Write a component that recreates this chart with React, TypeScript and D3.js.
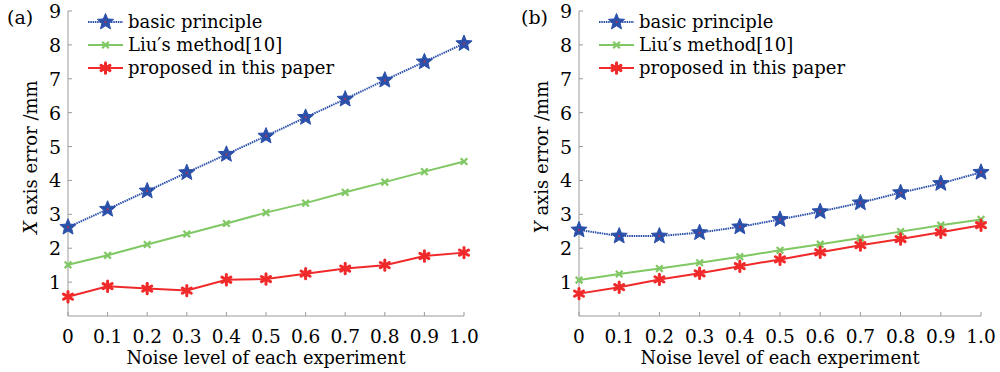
import React from "react";
import * as d3 from "d3";

const noise = [0, 0.1, 0.2, 0.3, 0.4, 0.5, 0.6, 0.7, 0.8, 0.9, 1.0];
const xTickLabels = ["0", "0.1", "0.2", "0.3", "0.4", "0.5", "0.6", "0.7", "0.8", "0.9", "1.0"];
const yTicks = [1, 2, 3, 4, 5, 6, 7, 8, 9];
const seriesNames = ["basic principle", "Liu\u2032s method[10]", "proposed in this paper"];

const aBasic = [2.62, 3.15, 3.69, 4.23, 4.77, 5.31, 5.86, 6.4, 6.96, 7.5, 8.04];
const aLiu = [1.51, 1.79, 2.11, 2.42, 2.73, 3.05, 3.33, 3.65, 3.95, 4.26, 4.56];
const aProposed = [0.57, 0.88, 0.81, 0.75, 1.07, 1.09, 1.25, 1.4, 1.5, 1.77, 1.87];

const bBasic = [2.54, 2.36, 2.36, 2.46, 2.63, 2.85, 3.08, 3.34, 3.64, 3.91, 4.24];
const bLiu = [1.06, 1.24, 1.4, 1.57, 1.75, 1.94, 2.12, 2.3, 2.49, 2.68, 2.85];
const bProposed = [0.66, 0.85, 1.08, 1.26, 1.47, 1.67, 1.88, 2.09, 2.27, 2.47, 2.68];

const BLUE = "#2b50aa";
const GREEN = "#80c864";
const RED = "#f02a2a";
const AXIS = "#9a9a9a";
const FONT = "DejaVu Serif, serif";

function starPath(cx: number, cy: number, R: number, r: number) {
  const pts: string[] = [];
  for (let i = 0; i < 10; i++) {
    const a = -Math.PI / 2 + (i * Math.PI) / 5;
    const rad = i % 2 === 0 ? R : r;
    pts.push(`${(cx + rad * Math.cos(a)).toFixed(2)},${(cy + rad * Math.sin(a)).toFixed(2)}`);
  }
  return "M" + pts.join("L") + "Z";
}

function Marker({ kind, x, y }: { kind: number; x: number; y: number }) {
  if (kind === 0) {
    return (
      <g>
        <path d={starPath(x, y, 8.5, 3.8)} fill={BLUE} stroke={BLUE} strokeWidth={1} />
        <circle cx={x} cy={y} r={1} fill="#c0304a" />
      </g>
    );
  }
  if (kind === 1) {
    const s = 3.3;
    return (
      <g stroke={GREEN} strokeWidth={2.2}>
        <line x1={x - s} y1={y - s} x2={x + s} y2={y + s} />
        <line x1={x - s} y1={y + s} x2={x + s} y2={y - s} />
      </g>
    );
  }
  const s = 5.2;
  const lines = [0, 60, 120].map((deg) => {
    const a = (deg * Math.PI) / 180 + Math.PI / 2;
    return (
      <line key={deg} x1={x - s * Math.cos(a)} y1={y - s * Math.sin(a)} x2={x + s * Math.cos(a)} y2={y + s * Math.sin(a)} />
    );
  });
  return (
    <g stroke={RED} strokeWidth={3} strokeLinecap="round">
      {lines}
    </g>
  );
}

function Panel({
  left,
  right,
  tag,
  tagX,
  axisLetter,
  data,
}: {
  left: number;
  right: number;
  tag: string;
  tagX: number;
  axisLetter: string;
  data: number[][];
}) {
  const x = d3.scaleLinear().domain([0, 1]).range([left, right]);
  const y = d3.scaleLinear().domain([0, 9]).range([316, 11]);
  const line = d3
    .line<number>()
    .x((_, i) => x(noise[i]))
    .y((d) => y(d));
  const colors = [BLUE, GREEN, RED];
  const legX = left + 20;
  const legY = [22, 45, 68];
  return (
    <g>
      <text x={tagX} y={24} fontFamily={FONT} fontSize={19}>
        {tag}
      </text>
      <line x1={left} y1={y(9)} x2={left} y2={y(0)} stroke={AXIS} strokeWidth={1} />
      <line x1={left} y1={y(0)} x2={right} y2={y(0)} stroke={AXIS} strokeWidth={1} />
      {yTicks.map((t) => (
        <g key={t}>
          <line x1={left} x2={left + 4} y1={y(t)} y2={y(t)} stroke={AXIS} />
          <text x={left - 7} y={y(t) + 7} textAnchor="end" fontFamily={FONT} fontSize={19}>
            {t}
          </text>
        </g>
      ))}
      {noise.map((t, i) => (
        <g key={i}>
          <line x1={x(t)} x2={x(t)} y1={y(0)} y2={y(0) - 4} stroke={AXIS} />
          <text x={x(t)} y={343} textAnchor="middle" fontFamily={FONT} fontSize={18.5}>
            {xTickLabels[i]}
          </text>
        </g>
      ))}
      <text x={(left + right) / 2} y={364} textAnchor="middle" fontFamily={FONT} fontSize={17.8}>
        Noise level of each experiment
      </text>
      <text
        transform={`translate(${left - 31},${157}) rotate(-90)`}
        textAnchor="middle"
        fontFamily={FONT}
        fontSize={18}
      >
        <tspan fontStyle="italic">{axisLetter}</tspan>
        <tspan> axis error /mm</tspan>
      </text>
      {data.map((vals, k) => (
        <g key={k}>
          <path
            d={line(vals) || ""}
            fill="none"
            stroke={colors[k]}
            strokeWidth={2}
            strokeDasharray={k === 0 ? "1.5 0.8" : undefined}
          />
          {vals.map((v, i) => (
            <Marker key={i} kind={k} x={x(noise[i])} y={y(v)} />
          ))}
        </g>
      ))}
      {seriesNames.map((name, k) => (
        <g key={k}>
          <line
            x1={legX}
            x2={legX + 35}
            y1={legY[k]}
            y2={legY[k]}
            stroke={colors[k]}
            strokeWidth={2}
            strokeDasharray={k === 0 ? "1.5 0.8" : undefined}
          />
          <Marker kind={k} x={legX + 17.5} y={legY[k]} />
          <text x={legX + 40} y={legY[k] + 6} fontFamily={FONT} fontSize={18}>
            {name}
          </text>
        </g>
      ))}
    </g>
  );
}

export default function App() {
  return (
    <svg width={1000} height={372} style={{ position: "absolute", left: 0, top: 0, background: "#fff" }}>
      <rect width={1000} height={372} fill="#fff" />
      <Panel left={68} right={464} tag="(a)" tagX={7} axisLetter="X" data={[aBasic, aLiu, aProposed]} />
      <Panel left={579} right={981} tag="(b)" tagX={521} axisLetter="Y" data={[bBasic, bLiu, bProposed]} />
    </svg>
  );
}
